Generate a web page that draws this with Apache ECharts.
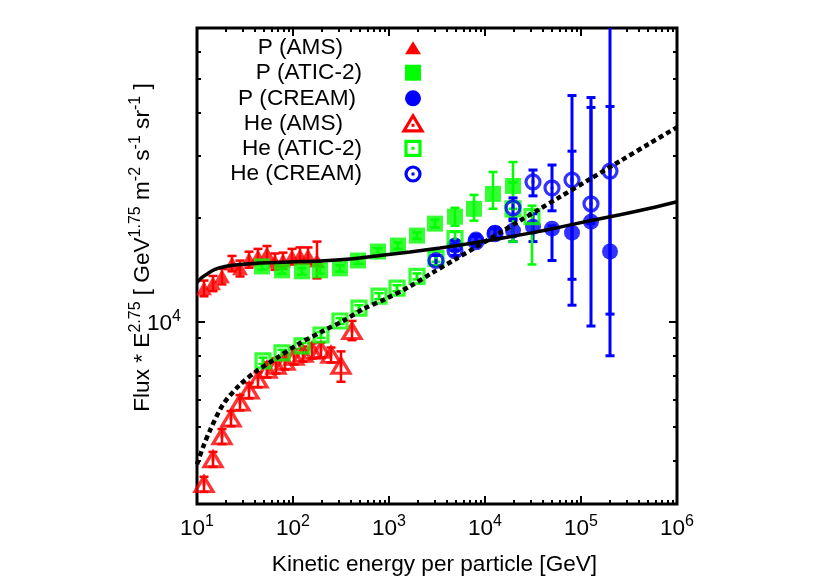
<!DOCTYPE html>
<html>
<head>
<meta charset="utf-8">
<script src="https://cdn.jsdelivr.net/npm/echarts@6/dist/echarts.min.js"></script>
<style>
html,body{margin:0;padding:0;background:#fff;}
#chart{width:830px;height:581px;}
</style>
</head>
<body>
<div id="chart"></div>
<script>
// ---------------- data ----------------
// P (AMS)
const pAmsE  = [11.83, 14.68, 18.21, 23.15, 28.05, 34.82, 43.19, 53.61, 64.94, 78.66, 97.63, 118.3, 143.3, 177.8];
const pAmsF  = [12510, 12920, 13530, 14740, 14270, 15130, 15430, 15740, 14940, 15030, 15430, 15540, 15540, 15030];
const pAmsLo = [11860, 12270, 12830, 13990, 13520, 14330, 14630, 14940, 14140, 14230, 14630, 14690, 14690, 13350];
const pAmsHi = [13160, 13570, 14230, 15490, 15020, 15930, 16230, 16540, 15740, 15830, 16230, 16390, 16390, 17030];
// P (ATIC-2)
const pAticE  = [47.55, 76.82, 124.1, 191.1, 308.8, 475.5, 768.2, 1241, 1957, 3014, 4870, 7682, 12115, 19573];
const pAticF  = [14450, 14080, 13990, 14080, 14270, 15030, 15950, 16590, 17720, 19180, 20080, 21160, 23350, 24610];
const pAticLo = [14150, 13780, 13690, 13780, 13970, 14700, 15600, 16250, 17350, 18700, 18920, 19560, 21160, 21160];
const pAticHi = [14750, 14380, 14290, 14380, 14570, 15360, 16300, 16930, 18090, 19700, 21300, 23200, 26990, 28830];
// P (CREAM)
const pCreamE  = [4870, 8058, 12711, 19573, 31623, 49890, 80590, 127100, 200500];
const pCreamF  = [16590, 17260, 18070, 18310, 18800, 18550, 18070, 19430, 15950];
const pCreamLo = [16050, 16700, 17490, 17030, 17030, 15030, 11180, 9740, 8000];
const pCreamHi = [17150, 17840, 18680, 19560, 20480, 18900, 30980, 41380, 41650];
// He (AMS)
const heAmsE  = [11.83, 14.68, 18.21, 22.61, 28.05, 34.82, 43.19, 53.61, 66.53, 82.54, 102.4, 127.1, 157.8, 195.7, 248.8, 316.2, 411.7];
const heAmsF  = [3422, 4035, 4693, 5284, 5869, 6353, 6831, 7292, 7486, 7686, 7945, 8100, 8264, 8318, 8050, 7486, 9425];
const heAmsLo = [3250, 3835, 4458, 5019, 5574, 6033, 6491, 6927, 7111, 7301, 7545, 7695, 7849, 7903, 7650, 6736, 8870];
const heAmsHi = [3592, 4235, 4928, 5549, 6164, 6673, 7171, 7657, 7861, 8071, 8345, 8505, 8679, 8733, 8450, 8236, 10075];
// He (ATIC-2)
const heAticE  = [48.70, 76.82, 124.1, 195.7, 308.8, 487.0, 786.8, 1212, 1957, 3087, 4870, 19573, 30870];
const heAticF  = [7737, 8155, 8540, 9180, 10070, 10960, 11870, 12510, 13530, 15230, 17380, 21160, 20080];
const heAticLo = [7580, 7990, 8370, 9000, 9870, 10740, 11630, 12260, 13260, 14900, 16580, 17030, 14640];
const heAticHi = [7900, 8320, 8710, 9360, 10270, 11180, 12110, 12760, 13800, 15560, 18190, 25200, 21600];
// He (CREAM)
const heCreamE  = [3087, 4870, 8058, 12711, 19573, 31623, 49890, 80590, 127100, 200500];
const heCreamF  = [15030, 16050, 17030, 17950, 21300, 25270, 24290, 25600, 21870, 27160];
const heCreamLo = [14550, 15540, 16480, 17380, 19820, 23050, 20880, 13270, 19180, 10540];
const heCreamHi = [15540, 16590, 17600, 18550, 22740, 27350, 28270, 44770, 44180, 100000];
// model curves
const pModelE  = [10, 11.27, 13.02, 15.40, 19.57, 28.05, 45.32, 93.07, 191.1, 392.4, 805.9, 1655, 3398, 6980, 14330, 29430, 60430, 124100, 254900, 523500, 1000000];
const pModelF  = [13010, 13440, 13800, 14170, 14450, 14640, 14790, 14890, 14980, 15180, 15540, 15900, 16320, 16810, 17380, 18010, 18740, 19560, 20340, 21230, 22160];
const heModelE = [10, 11.55, 13.66, 18.66, 28.05, 42.17, 68.13, 110.1, 205.4, 331.7, 536.1, 953.3, 1655, 2873, 4870, 8254, 14330, 23150, 37410, 60430, 124100, 254900, 523500, 1000000];
const heModelF = [3905, 4368, 4883, 5793, 6609, 7245, 7890, 8600, 9425, 10070, 10890, 11710, 12670, 13890, 15130, 16480, 18070, 19560, 21160, 22890, 25770, 29010, 32660, 36280];
// ticks
const xMajor = [10, 100, 1000, 10000, 100000, 1000000];
const xMinor = [20,30,40,50,60,70,80,90, 200,300,400,500,600,700,800,900,
                2000,3000,4000,5000,6000,7000,8000,9000, 20000,30000,40000,50000,60000,70000,80000,90000,
                200000,300000,400000,500000,600000,700000,800000,900000];
const yMajor = [10000];
const yMinor = [4000,5000,6000,7000,8000,9000,20000,30000,40000,50000,60000];
const legendNames = ['P (AMS)', 'P (ATIC-2)', 'P (CREAM)', 'He (AMS)', 'He (ATIC-2)', 'He (CREAM)'];

// ---------------- chart ----------------
const RED = '#ff0000', GREEN = '#00ff00', BLUE = '#0000ff';
const FONT = '"Liberation Sans", Arial, Helvetica, sans-serif';
const FS = 22.6, SFS = 16;
const chart = echarts.init(document.getElementById('chart'), null, {renderer: 'canvas'});

function pts(E, F) { return E.map((e, i) => [e, F[i]]); }
function bars(E, lo, hi) { return E.map((e, i) => [e, lo[i], hi[i]]); }

function errSeries(E, lo, hi, color, w) {
  return {
    type: 'custom', xAxisIndex: 0, yAxisIndex: 0, silent: true, z: 2,
    data: bars(E, lo, hi),
    encode: {x: 0, y: [1, 2]},
    renderItem: function (params, api) {
      const cs = params.coordSys;
      const a = api.coord([api.value(0), api.value(2)]);
      const b = api.coord([api.value(0), api.value(1)]);
      const top = Math.max(a[1], cs.y), bot = Math.min(b[1], cs.y + cs.height);
      const st = {stroke: color, lineWidth: w};
      const ch = [{type: 'line', shape: {x1: a[0], y1: top, x2: a[0], y2: bot}, style: st}];
      const cw = 4.5;
      if (a[1] >= cs.y) ch.push({type: 'line', shape: {x1: a[0] - cw, y1: a[1], x2: a[0] + cw, y2: a[1]}, style: st});
      if (b[1] <= cs.y + cs.height) ch.push({type: 'line', shape: {x1: b[0] - cw, y1: b[1], x2: b[0] + cw, y2: b[1]}, style: st});
      return {type: 'group', children: ch};
    }
  };
}
function scat(E, F, symbol, size, color, open) {
  return {
    type: 'scatter', data: pts(E, F), symbol: symbol, symbolSize: size, silent: true, z: 3,
    itemStyle: open ? {color: 'rgba(0,0,0,0)', borderColor: color, borderWidth: 3.2} : {color: color, borderWidth: 0}
  };
}
function dots(E, F, color) {
  return {type: 'scatter', data: pts(E, F), symbol: 'rect', symbolSize: 3, silent: true, z: 3, itemStyle: {color: color}};
}

function expLabel(v) { return '{b|10}{s|' + Math.round(Math.log10(v)) + '}'; }
const labRich = {
  b: {fontSize: FS, fontFamily: FONT, color: '#000', lineHeight: 26, verticalAlign: 'bottom'},
  s: {fontSize: SFS, fontFamily: FONT, color: '#000', lineHeight: 16, verticalAlign: 'top'}
};
const tickStyle = {color: '#000', width: 2};

function xAx(pos, ticks, len, labels) {
  const ax = {
    type: 'log', logBase: 10, min: 10, max: 1000000, position: pos, gridIndex: 0,
    axisLine: {show: false}, splitLine: {show: false}, minorTick: {show: false},
    axisTick: {show: true, inside: true, length: len, lineStyle: tickStyle, customValues: ticks},
    axisLabel: {show: false}
  };
  if (labels) {
    ax.axisLabel = {show: true, customValues: ticks, formatter: expLabel, rich: labRich, margin: 10};
    ax.name = 'Kinetic energy per particle [GeV]';
    ax.nameLocation = 'middle';
    ax.nameGap = 49;
    ax.nameMoveOverlap = false;
    ax.nameTextStyle = {fontSize: FS, fontFamily: FONT, color: '#000', padding: [0, 5, 0, 0]};
  }
  return ax;
}
function yAx(pos, ticks, len, labels) {
  const ax = {
    type: 'log', logBase: 10, min: 3000, max: 70000, position: pos, gridIndex: 0,
    axisLine: {show: false}, splitLine: {show: false}, minorTick: {show: false},
    axisTick: {show: true, inside: true, length: len, lineStyle: tickStyle, customValues: ticks},
    axisLabel: {show: false}
  };
  if (labels) {
    ax.axisLabel = {show: true, customValues: ticks, formatter: expLabel, rich: labRich, margin: 16};
    ax.name = '{n|Flux * E}{s|2.75}{n| [ GeV}{s|1.75}{n| m}{s|-2}{n| s}{s|-1}{n| sr}{s|-1}{n| ]}';
    ax.nameLocation = 'middle';
    ax.nameRotate = 90;
    ax.nameGap = 43;
    ax.nameMoveOverlap = false;
    ax.nameTextStyle = {
      fontSize: FS, fontFamily: FONT, color: '#000', padding: [0, 0, 0, 37],
      rich: {
        n: {fontSize: FS, fontFamily: FONT, color: '#000', lineHeight: 26, verticalAlign: 'bottom'},
        s: {fontSize: SFS, fontFamily: FONT, color: '#000', lineHeight: 16, verticalAlign: 'top'}
      }
    };
  }
  return ax;
}

// legend (drawn as graphic: right-aligned labels + symbol icons)
const legRowY = [47.7, 72.7, 98.3, 123.3, 148.3, 174];
const legTextX = [343, 362, 356, 343, 362, 362];
const legIconX = 413;
const legColors = [RED, GREEN, BLUE, RED, GREEN, BLUE];
const legShapes = ['tri', 'sq', 'circ', 'tri', 'sq', 'circ'];
const legOpen = [false, false, false, true, true, true];
const legendGraphics = [];
legendNames.forEach(function (name, i) {
  const y = legRowY[i], c = legColors[i], x = legIconX;
  legendGraphics.push({type: 'text', x: legTextX[i], y: y, silent: true,
    style: {text: name, align: 'right', verticalAlign: 'middle', fontSize: FS, fontFamily: FONT, fill: '#000'}});
  const st = legOpen[i] ? {fill: 'none', stroke: c, lineWidth: 3.2} : {fill: c};
  if (legShapes[i] === 'tri') {
    const w = legOpen[i] ? 18 : 16, h = legOpen[i] ? 15 : 13;
    legendGraphics.push({type: 'polygon', silent: true, shape: {points: [[x - w / 2, y + h / 2], [x + w / 2, y + h / 2], [x, y - h / 2]]}, style: st});
  } else if (legShapes[i] === 'sq') {
    const s = legOpen[i] ? 14 : 16;
    legendGraphics.push({type: 'rect', silent: true, shape: {x: x - s / 2, y: y - s / 2, width: s, height: s}, style: st});
  } else {
    const r = legOpen[i] ? 7 : 8;
    legendGraphics.push({type: 'circle', silent: true, shape: {cx: x, cy: y, r: r}, style: st});
  }
  if (legOpen[i]) {
    legendGraphics.push({type: 'rect', silent: true, shape: {x: x - 1.5, y: y - 1.5 + (legShapes[i] === 'tri' ? 2 : 0), width: 3, height: 3}, style: {fill: c}});
  }
});

const option = {
  animation: false,
  backgroundColor: '#ffffff',
  grid: {left: 197, right: 153, top: 28, bottom: 74, show: true, borderColor: '#000', borderWidth: 3, backgroundColor: 'rgba(0,0,0,0)', containLabel: false},
  xAxis: [xAx('bottom', xMajor, 8, true), xAx('bottom', xMinor, 4, false), xAx('top', xMajor, 8, false), xAx('top', xMinor, 4, false)],
  yAxis: [yAx('left', yMajor, 8, true), yAx('left', yMinor, 4, false), yAx('right', yMajor, 8, false), yAx('right', yMinor, 4, false)],
  graphic: legendGraphics,
  series: [
    errSeries(pAmsE, pAmsLo, pAmsHi, RED, 2.5),
    scat(pAmsE, pAmsF, 'triangle', [16, 14], RED, false),
    errSeries(pAticE, pAticLo, pAticHi, GREEN, 2.5),
    scat(pAticE, pAticF, 'rect', 16, GREEN, false),
    errSeries(pCreamE, pCreamLo, pCreamHi, BLUE, 3),
    scat(pCreamE, pCreamF, 'circle', 16, BLUE, false),
    errSeries(heAmsE, heAmsLo, heAmsHi, RED, 2.5),
    scat(heAmsE, heAmsF, 'triangle', [18, 15], RED, true),
    dots(heAmsE, heAmsF, RED),
    errSeries(heAticE, heAticLo, heAticHi, GREEN, 2.5),
    scat(heAticE, heAticF, 'rect', 14, GREEN, true),
    dots(heAticE, heAticF, GREEN),
    errSeries(heCreamE, heCreamLo, heCreamHi, BLUE, 3),
    scat(heCreamE, heCreamF, 'circle', 14, BLUE, true),
    dots(heCreamE, heCreamF, BLUE),
    {type: 'line', data: pts(pModelE, pModelF), symbol: 'none', smooth: 0.3, silent: true, z: 4,
     lineStyle: {color: '#000', width: 3.5}},
    {type: 'line', data: pts(heModelE, heModelF), symbol: 'none', smooth: 0.3, silent: true, z: 4,
     lineStyle: {color: '#000', width: 4.5, type: [5, 3.5]}}
  ]
};
chart.setOption(option);
</script>
</body>
</html>
